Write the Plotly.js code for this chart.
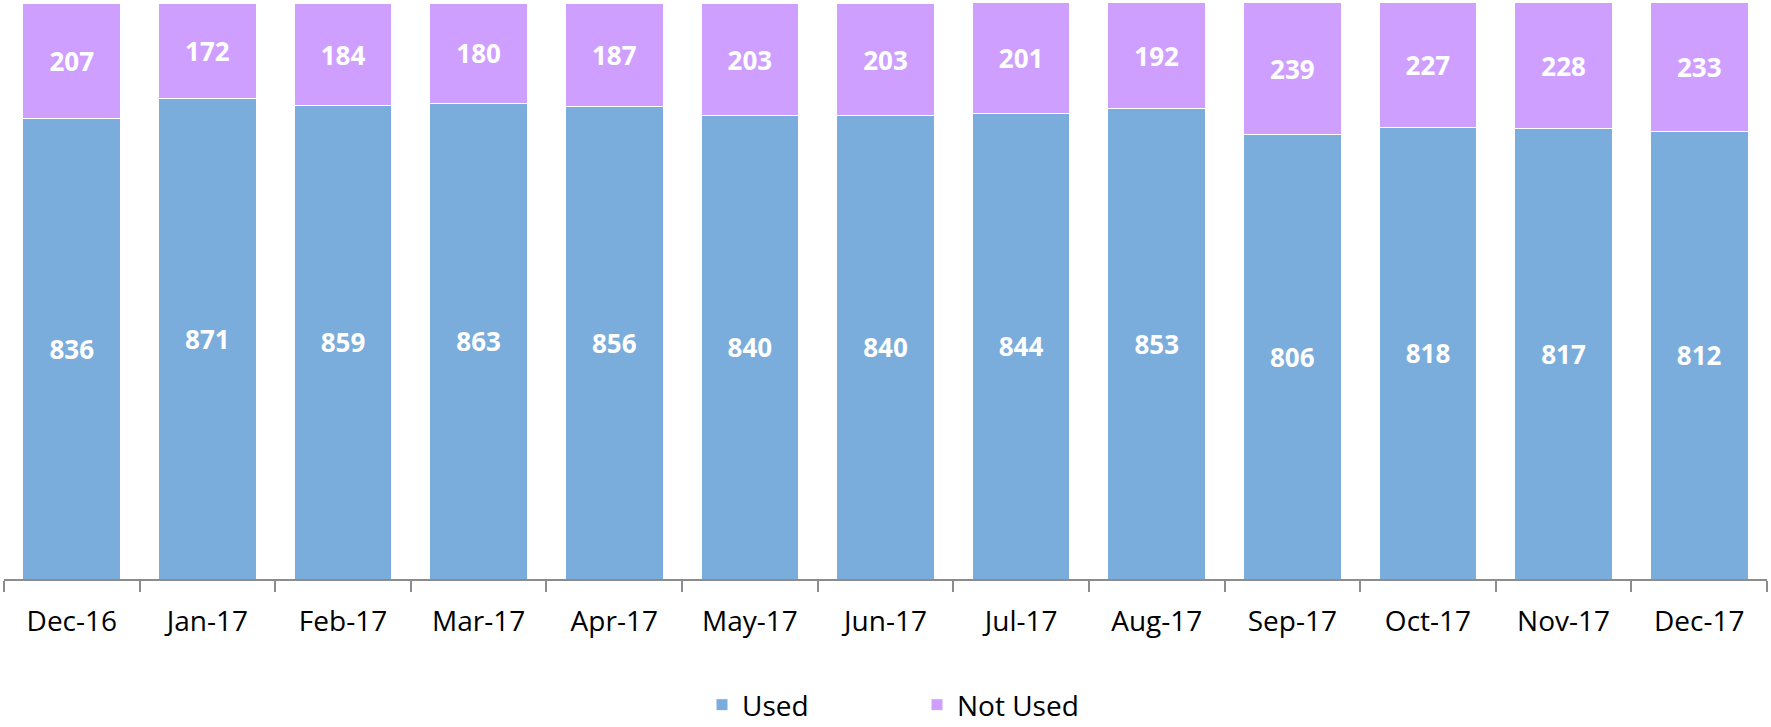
<!DOCTYPE html>
<html>
<head>
<meta charset="utf-8">
<script src="https://cdn.plot.ly/plotly-3.0.1.min.js"></script>
<style>html,body{margin:0;padding:0;background:#fff;}#chart{width:1771px;height:727px;}</style>
</head>
<body>
<div id="chart"></div>
<script>
const months = ["Dec-16","Jan-17","Feb-17","Mar-17","Apr-17","May-17","Jun-17","Jul-17","Aug-17","Sep-17","Oct-17","Nov-17","Dec-17"];
const used = [836,871,859,863,856,840,840,844,853,806,818,817,812];
const notUsed = [207,172,184,180,187,203,203,201,192,239,227,228,233];

const labelFont = {family: "Open Sans", size: 26, color: "#ffffff", weight: 700};

const traces = [
  {
    type: "bar", name: "Used", x: months, y: used,
    marker: {color: "#7AADDC", line: {color: "#ffffff", width: 1}},
    text: used.map(String), textposition: "inside", insidetextanchor: "middle",
    textfont: labelFont, hoverinfo: "x+y+name"
  },
  {
    type: "bar", name: "Not Used", x: months, y: notUsed,
    marker: {color: "#CF9FFF", line: {color: "#ffffff", width: 1}},
    text: notUsed.map(String), textposition: "inside", insidetextanchor: "middle",
    textfont: labelFont, hoverinfo: "x+y+name"
  }
];

const layout = {
  width: 1771, height: 727,
  margin: {l: 4, r: 4, t: 0, b: 148, autoexpand: false},
  barmode: "stack",
  bargap: 0.28,
  paper_bgcolor: "#ffffff", plot_bgcolor: "#ffffff",
  font: {family: "Open Sans", color: "#000000"},
  xaxis: {
    type: "category",
    showline: true, linecolor: "#8c8c8c", linewidth: 2,
    ticks: "outside", tickson: "boundaries", ticklen: 11, tickwidth: 2, tickcolor: "#8c8c8c",
    tickfont: {family: "Open Sans", size: 28, color: "#000000"},
    ticklabelstandoff: 16,
    automargin: false,
    showgrid: false, zeroline: false, fixedrange: true
  },
  yaxis: {
    range: [0, 1050], visible: false, showgrid: false, zeroline: false, fixedrange: true
  },
  showlegend: true,
  legend: {
    orientation: "h", xref: "container", yref: "container",
    x: 702 / 1771, xanchor: "left", y: 22 / 727, yanchor: "middle",
    font: {family: "Open Sans", size: 28, color: "#000000"},
    traceorder: "normal", entrywidth: 170, itemwidth: 30
  }
};

Plotly.newPlot("chart", traces, layout, {displayModeBar: false, staticPlot: true});
</script>
</body>
</html>
